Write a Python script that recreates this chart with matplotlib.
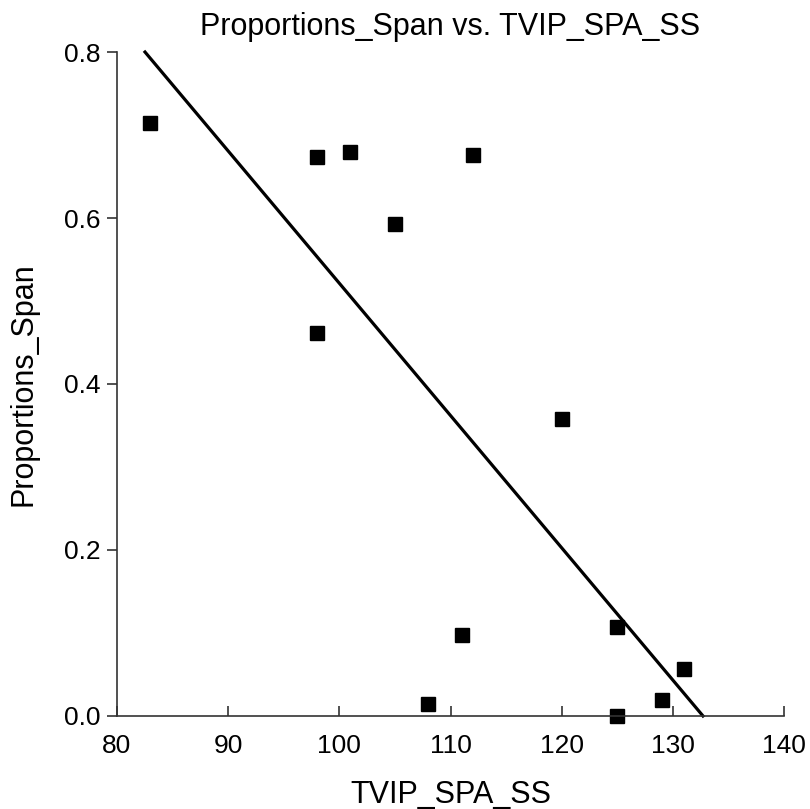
import numpy as np
import matplotlib
matplotlib.use('Agg')
import matplotlib.pyplot as plt

plt.rcParams['font.family'] = ['Liberation Sans', 'DejaVu Sans']

# values
tvip = [83, 98, 101, 112, 105, 98, 120, 111, 108, 125, 125, 129, 131]
prop_span = [0.714, 0.673, 0.680, 0.676, 0.593, 0.461, 0.358, 0.098, 0.0145,
             0.107, 0.0, 0.019, 0.057]

fig = plt.figure(figsize=(8.1, 8.09), dpi=100)
ax = fig.add_axes([0.1444, 0.115, 0.8236, 0.8207])

ax.plot(tvip, prop_span, 's', color='black', markersize=9.5, clip_on=False)

# least squares fit, drawn where it stays inside 0..0.8
slope, icpt = np.polyfit(tvip, prop_span, 1)
x0 = (0.8 - icpt) / slope
x1 = (0.0 - icpt) / slope
ax.plot([x0, x1], [slope * x0 + icpt, slope * x1 + icpt], color='black', lw=2.3,
        clip_on=False)

ax.set_xlim(80, 140)
ax.set_ylim(0, 0.8)
ax.set_xticks([80, 90, 100, 110, 120, 130, 140])
ax.set_yticks([0.0, 0.2, 0.4, 0.6, 0.8])
ax.set_yticklabels(['0.0', '0.2', '0.4', '0.6', '0.8'])

ax.spines['top'].set_visible(False)
ax.spines['right'].set_visible(False)
for s in ['left', 'bottom']:
    ax.spines[s].set_linewidth(1.2)
    ax.spines[s].set_color('#333333')
ax.tick_params(axis='x', direction='in', length=7, width=1.2, color='#333333',
               labelsize=19, pad=13)
ax.tick_params(axis='y', direction='out', length=7, width=1.2, color='#333333',
               labelsize=19, pad=5)

ax.set_xlabel('TVIP_SPA_SS', fontsize=22, labelpad=16)
ax.set_ylabel('Proportions_Span', fontsize=22, labelpad=18)
ax.set_title('Proportions_Span vs. TVIP_SPA_SS', fontsize=22, pad=12)

fig.savefig('out.png', dpi=100)
